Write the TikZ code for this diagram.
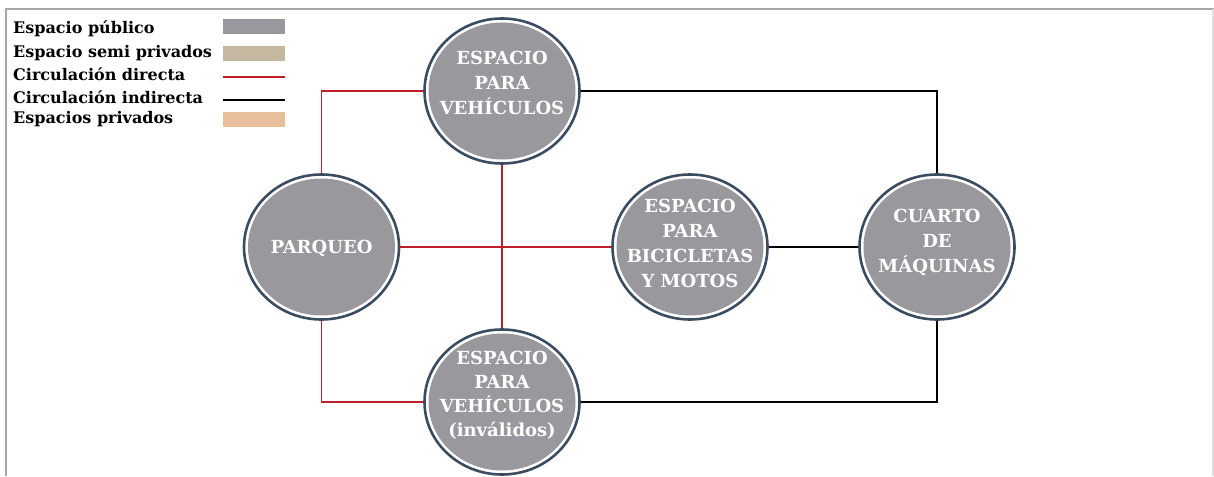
\documentclass[tikz,border=0pt]{standalone}
\usepackage{fontspec}
\setmainfont{DejaVu Serif}
\usetikzlibrary{shapes.geometric}
\definecolor{cgray}{RGB}{153,152,157}
\definecolor{ring}{RGB}{59,76,96}
\definecolor{beige}{RGB}{196,185,160}
\definecolor{peach}{RGB}{232,190,155}
\definecolor{cred}{RGB}{192,30,40}
\definecolor{frame}{RGB}{166,166,166}
\tikzset{
  circ/.style={ellipse, minimum width=155pt, minimum height=145pt, inner sep=0pt,
    draw=ring, line width=2.6pt, fill=white,
    path picture={\fill[cgray] (path picture bounding box.center) ellipse [x radius=73.5pt, y radius=68.5pt];}},
  ctext/.style={text=white, align=center, inner sep=0pt,
    font=\fontsize{18}{25}\selectfont\bfseries},
  legtext/.style={anchor=base west, inner sep=0pt, font=\fontsize{16}{19}\selectfont\bfseries},
  direct/.style={draw=cred, line width=1.6pt},
  indirect/.style={draw=black, line width=1.6pt},
}
\begin{document}
\begin{tikzpicture}[x=1pt,y=-1pt]
\useasboundingbox (0,0) rectangle (1214,476);
% frame
\draw[frame, line width=1.6pt] (6,476) -- (6,9) -- (1214,9);
\draw[black!12, line width=1.2pt] (1213,9) -- (1213,476);
% legend
\node[legtext] (l1) at (13,34) {Espacio público};
\node[legtext] (l2) at (13,58) {Espacio semi privados};
\node[legtext] (l3) at (13,81) {Circulación directa};
\node[legtext] (l4) at (13,104) {Circulación indirecta};
\node[legtext] (l5) at (13,124) {Espacios privados};
\fill[cgray] (223,19) rectangle (285,34);
\fill[beige] (223,46) rectangle (285,61);
\draw[direct] (223,77) -- (285,77);
\draw[indirect] (223,100) -- (285,100);
\fill[peach] (223,112) rectangle (285,127);
% nodes
\node[circ] (top) at (502,91) {};
\node[circ] (parq) at (321.5,247) {};
\node[circ] (bici) at (690,247) {};
\node[circ] (cuarto) at (937,247) {};
\node[circ] (bot) at (502,402) {};
\node[ctext] (topt) at (502,83) {ESPACIO\\PARA\\VEHÍCULOS};
\node[ctext] (parqt) at (321.5,248) {PARQUEO};
\node[ctext] (bicit) at (690,243.5) {ESPACIO\\PARA\\BICICLETAS\\Y MOTOS};
\node[ctext] (cuartot) at (937,242) {CUARTO\\DE\\MÁQUINAS};
\node[ctext, font=\fontsize{18}{24}\selectfont\bfseries] (bott) at (502,395) {ESPACIO\\PARA\\VEHÍCULOS\\(inválidos)};
% connectors
\draw[direct] (parq.north) |- (top.west);
\draw[direct] (parq.south) |- (bot.west);
\draw[direct] (parq.east) -- (bici.west);
\draw[direct] (top.south) -- (bot.north);
\draw[indirect] (top.east) -| (cuarto.north);
\draw[indirect] (bici.east) -- (cuarto.west);
\draw[indirect] (bot.east) -| (cuarto.south);
\end{tikzpicture}
\end{document}
